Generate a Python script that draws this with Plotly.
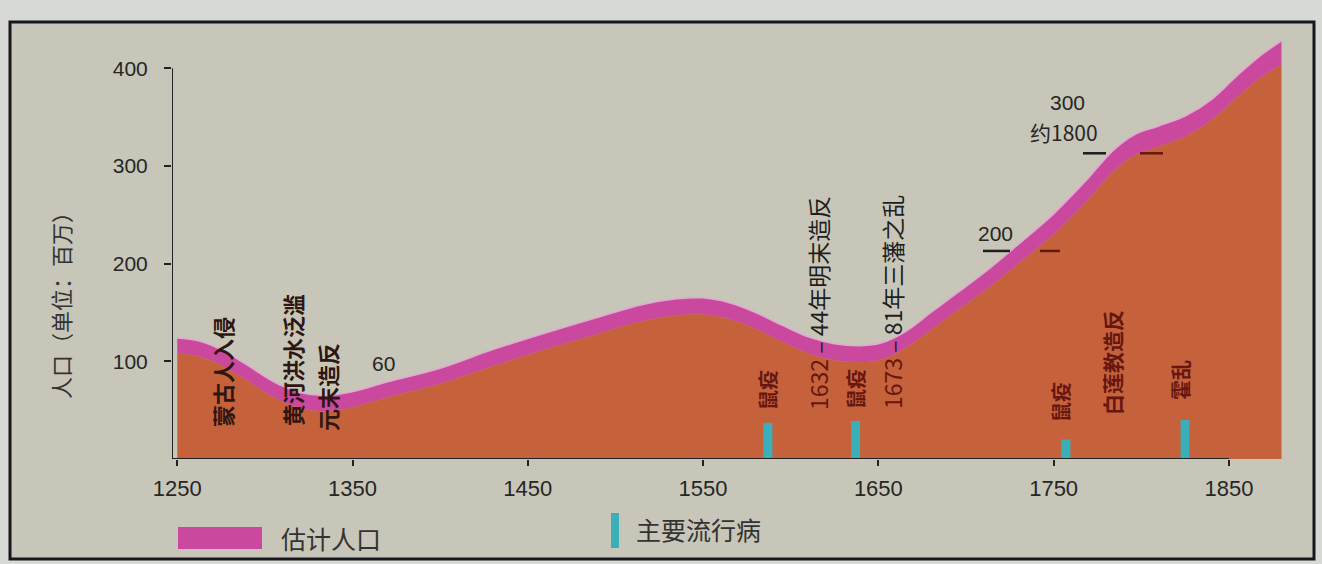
import plotly.graph_objects as go

# ---------------- data ----------------
years = [1250, 1262, 1275, 1290, 1305, 1320, 1335, 1350, 1370, 1400, 1430, 1460, 1490,
         1515, 1535, 1550, 1565, 1580, 1595, 1610, 1625, 1640, 1652, 1665, 1680, 1695,
         1712, 1730, 1750, 1768, 1784, 1796, 1810, 1825, 1840, 1855, 1868, 1880]
pop_upper = [124, 121, 112, 96, 79, 68, 65, 69, 79, 93, 112, 129, 145,
             158, 164, 165, 160, 150, 137, 125, 118, 116, 119, 130, 150, 170,
             193, 220, 251, 284, 316, 332, 341, 351, 368, 393, 413, 428]
pop_lower = [108, 105, 96, 80, 63, 52, 49, 53, 63, 77, 95, 112, 128,
             141, 147, 148, 143, 133, 120, 108, 101, 99, 102, 113, 132, 152,
             174, 200, 230, 262, 294, 311, 320, 330, 347, 371, 390, 404]

epidemic_years = [1587, 1637, 1757, 1825]
epidemic_sizes = [37, 39, 20, 40]

x_tick_vals = [1250, 1350, 1450, 1550, 1650, 1750, 1850]
y_tick_vals = [100, 200, 300, 400]

level_values = [213, 313]

# ---------------- geometry / style ----------------
W, H = 1322, 564
L, R, T, B = 172, 30, 39, 105
PW, PH = W - L - R, H - T - B
X0, X1 = 1247, 1886
Y0, Y1 = 0, 430

def paper_x(p):
    return (p - L) / PW

def paper_y(p):
    return (H - B - p) / PH

def data_x(p):
    return X0 + (p - L) / PW * (X1 - X0)

def data_y(p):
    return Y0 + (H - B - p) / PH * (Y1 - Y0)

BG_OUT = '#d6d9d4'
BG_IN = '#c7c6b8'
MAGENTA = '#cb489f'
ORANGE = '#c5613b'
TEAL = '#3bafb8'
DARK = '#262626'
LABEL = '#2e1612'
DRED = '#661710'

NUM_FONT = 'Liberation Sans Narrow, Liberation Sans, Arial, sans-serif'
CJK_FONT = 'Noto Sans CJK SC, Noto Sans, sans-serif'

fig = go.Figure()
fig.add_trace(go.Scatter(
    x=years, y=pop_lower, mode='lines', fill='tozeroy', fillcolor=ORANGE,
    line=dict(color=ORANGE, width=0.5, shape='spline', smoothing=1.0),
    hoverinfo='skip', showlegend=False))
fig.add_trace(go.Scatter(
    x=years, y=pop_upper, mode='lines', fill='tonexty', fillcolor=MAGENTA,
    line=dict(color='#e2a9d2', width=1.5, shape='spline', smoothing=1.0),
    hoverinfo='skip', showlegend=False))

# epidemic markers: vertical thick segments from the baseline
ex, ey = [], []
for yr, h in zip(epidemic_years, epidemic_sizes):
    ex += [yr, yr, None]
    ey += [0, h, None]
fig.add_trace(go.Scatter(x=ex, y=ey, mode='lines', line=dict(color=TEAL, width=9),
                         hoverinfo='skip', showlegend=False))

shapes = []
# frame
shapes.append(dict(type='rect', xref='paper', yref='paper',
                   x0=paper_x(10), x1=paper_x(1314), y0=paper_y(559), y1=paper_y(22),
                   fillcolor=BG_IN, line=dict(color='#16161f', width=3), layer='below'))
# axis lines
shapes.append(dict(type='line', xref='x', yref='y', x0=X0, x1=x_tick_vals[-1], y0=0, y1=0,
                   line=dict(color='#222', width=2), layer='above'))
shapes.append(dict(type='line', xref='x', yref='y', x0=X0, x1=X0, y0=0, y1=y_tick_vals[-1],
                   line=dict(color='#222', width=2), layer='above'))
# level dashes (200 and about 1800 / 300)
shapes.append(dict(type='line', xref='x', yref='y', x0=data_x(983), x1=data_x(1010),
                   y0=level_values[0], y1=level_values[0], line=dict(color='#1e1e1e', width=2.5)))
shapes.append(dict(type='line', xref='x', yref='y', x0=data_x(1040), x1=data_x(1060),
                   y0=level_values[0], y1=level_values[0], line=dict(color=DRED, width=2.5)))
shapes.append(dict(type='line', xref='x', yref='y', x0=data_x(1083), x1=data_x(1106),
                   y0=level_values[1], y1=level_values[1], line=dict(color='#1e1e1e', width=2.5)))
shapes.append(dict(type='line', xref='x', yref='y', x0=data_x(1140), x1=data_x(1163),
                   y0=level_values[1], y1=level_values[1], line=dict(color=DRED, width=2.5)))
# legend swatches
shapes.append(dict(type='rect', xref='paper', yref='paper',
                   x0=paper_x(178), x1=paper_x(262), y0=paper_y(549), y1=paper_y(527),
                   fillcolor=MAGENTA, line=dict(width=0)))
shapes.append(dict(type='rect', xref='paper', yref='paper',
                   x0=paper_x(611), x1=paper_x(619), y0=paper_y(548), y1=paper_y(513),
                   fillcolor=TEAL, line=dict(width=0)))

ann = []

def vtext(text, px, py, size=21, color=LABEL, bold=True):
    if bold:
        text = '<b>' + text + '</b>'
    ann.append(dict(text=text, x=data_x(px), y=data_y(py), xref='x', yref='y',
                    textangle=-90, showarrow=False, xanchor='center', yanchor='middle',
                    font=dict(family=CJK_FONT, size=size, color=color)))

def htext(text, px, py, size=19, color=DARK, anchor='center', family=NUM_FONT):
    ann.append(dict(text=text, x=data_x(px), y=data_y(py), xref='x', yref='y',
                    showarrow=False, xanchor=anchor, yanchor='middle',
                    font=dict(family=family, size=size, color=color)))

vtext('蒙古人入侵', 222, 372, size=22)
vtext('黄河洪水泛滥', 292, 360, size=22)
vtext('元末造反', 327, 387, size=22)
htext('60', 383, 363, size=21)
vtext('鼠疫', 767, 390, size=20, color=DRED)
vtext('<span style="color:%s">1632</span> – 44年明末造反' % DRED, 818, 303, size=23, color='#1e1e1e', bold=False)
vtext('鼠疫', 855, 389, size=20, color=DRED)
vtext('<span style="color:%s">1673</span> – 81年三藩之乱' % DRED, 892, 302, size=23, color='#1e1e1e', bold=False)
vtext('鼠疫', 1060, 402, size=20, color=DRED)
vtext('白莲教造反', 1112, 363, size=21, color=DRED)
vtext('霍乱', 1180, 380, size=20, color=DRED)
htext('200', 995, 233, size=21)
htext('300', 1067, 102, size=21)
htext('约1800', 1064, 132, size=21, family=CJK_FONT)
htext('420', 1250, 33, size=21)

# y axis title
ann.append(dict(text='人口（单位：百万）', xref='paper', yref='paper',
                x=paper_x(60), y=paper_y(300), textangle=-90, showarrow=False,
                xanchor='center', yanchor='middle',
                font=dict(family=CJK_FONT, size=22, color='#333')))
# legend texts
ann.append(dict(text='估计人口', xref='paper', yref='paper', x=paper_x(279), y=paper_y(538),
                showarrow=False, xanchor='left', yanchor='middle',
                font=dict(family=CJK_FONT, size=25, color='#333')))
ann.append(dict(text='主要流行病', xref='paper', yref='paper', x=paper_x(634), y=paper_y(529),
                showarrow=False, xanchor='left', yanchor='middle',
                font=dict(family=CJK_FONT, size=25, color='#333')))

fig.update_layout(
    width=W, height=H,
    margin=dict(l=L, r=R, t=T, b=B, pad=0),
    paper_bgcolor=BG_OUT, plot_bgcolor='rgba(0,0,0,0)',
    shapes=shapes, annotations=ann, showlegend=False,
    xaxis=dict(range=[X0, X1], tickvals=x_tick_vals, ticktext=[str(v) for v in x_tick_vals],
               ticks='outside', ticklen=6, tickwidth=2, tickcolor='#222',
               showline=False, showgrid=False, zeroline=False,
               tickfont=dict(family=NUM_FONT, size=22, color=DARK), ticklabelstandoff=4),
    yaxis=dict(range=[Y0, Y1], tickvals=y_tick_vals, ticktext=[str(v) for v in y_tick_vals],
               ticks='outside', ticklen=7, tickwidth=2, tickcolor='#222',
               showline=False, showgrid=False, zeroline=False,
               tickfont=dict(family=NUM_FONT, size=21, color=DARK), ticklabelstandoff=12),
)

fig.write_html('out.html', config={'displayModeBar': False},
               post_script="document.body.style.margin='0px';")
